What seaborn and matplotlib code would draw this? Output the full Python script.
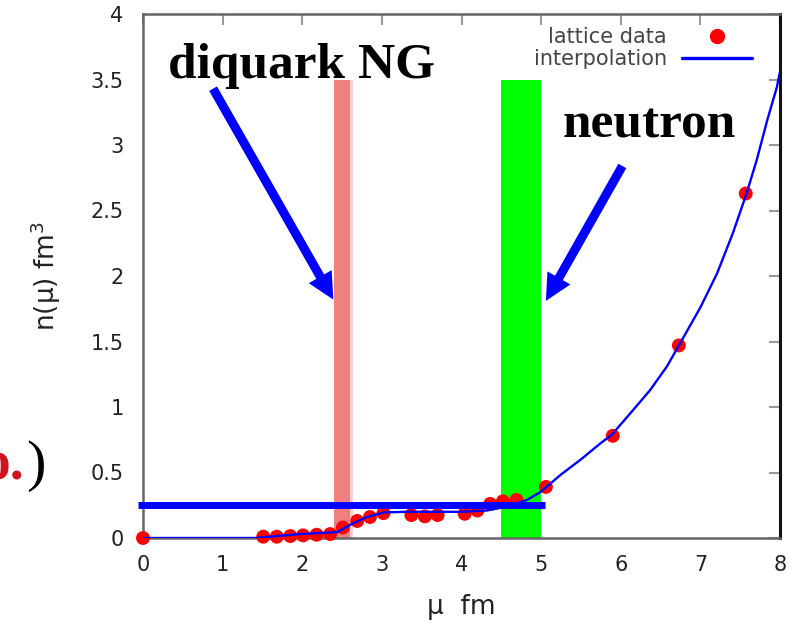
import matplotlib
matplotlib.use("Agg")
import matplotlib.pyplot as plt
import seaborn as sns
import pandas as pd
from matplotlib.lines import Line2D

# ---- data ----
lattice_mu = [0.0, 1.51, 1.68, 1.85, 2.01, 2.18, 2.35, 2.51, 2.69, 2.85, 3.02,
              3.37, 3.54, 3.70, 4.04, 4.20, 4.36, 4.52, 4.69, 5.06,
              5.90, 6.73, 7.57]
lattice_n = [0.0, 0.01, 0.01, 0.015, 0.02, 0.025, 0.03, 0.08, 0.13, 0.16, 0.19,
             0.175, 0.165, 0.175, 0.185, 0.21, 0.26, 0.28, 0.29, 0.39,
             0.78, 1.47, 2.63]

interp_mu = [0.0, 1.4, 1.97, 2.44, 2.6, 2.81, 3.02, 3.3, 3.7, 4.0, 4.32,
             4.57, 4.82, 4.99, 5.24, 5.5, 5.74, 5.89, 6.16, 6.37, 6.58,
             6.73, 7.0, 7.21, 7.41, 7.58, 7.71, 7.84, 7.96, 8.0]
interp_n = [0.0, 0.0, 0.03, 0.045, 0.1, 0.16, 0.195, 0.2, 0.2, 0.2, 0.21,
            0.24, 0.29, 0.35, 0.48, 0.6, 0.72, 0.79, 0.98, 1.13, 1.31,
            1.47, 1.76, 2.02, 2.33, 2.63, 2.89, 3.19, 3.44, 3.56]

diquark_band = [2.40, 2.60]
neutron_band = [4.50, 5.00]
band_top = 3.5
plateau_level = 0.25
plateau_range = [-0.06, 5.05]

x_ticks = [0, 1, 2, 3, 4, 5, 6, 7, 8]
y_ticks = [0, 0.5, 1, 1.5, 2, 2.5, 3, 3.5, 4]
y_tick_labels = ["0", "0.5", "1", "1.5", "2", "2.5", "3", "3.5", "4"]

sns.set_style("white")
plt.rcParams["font.family"] = ["DejaVu Sans"]

W, H = 795, 623
fig = plt.figure(figsize=(W / 100, H / 100), dpi=100)
ax = fig.add_axes([143 / W, 1 - 538 / H, (780 - 143) / W, (538 - 14) / H])

# vertical bands
ax.fill_between(diquark_band, 0, band_top, color="#f08080", lw=0, zorder=1)
ax.fill_between([diquark_band[1], diquark_band[1] + 0.04], 0, band_top,
                color="#fbd0d0", lw=0, zorder=1)
ax.fill_between(neutron_band, 0, band_top, color="#00ff00", lw=0, zorder=1)

df_lat = pd.DataFrame({"mu": lattice_mu, "n": lattice_n})
df_int = pd.DataFrame({"mu": interp_mu, "n": interp_n})

sns.scatterplot(data=df_lat, x="mu", y="n", ax=ax, color="#ff0000", s=100,
                edgecolor="none", zorder=3, legend=False, clip_on=False)
sns.lineplot(data=df_int, x="mu", y="n", ax=ax, color="#0000ff", lw=1.7,
             zorder=4, legend=False)

# thick plateau line
ax.plot(plateau_range, [plateau_level, plateau_level], color="#0000ff", lw=5,
        solid_capstyle="butt", zorder=5, clip_on=False)

ax.set_xlim(0, 8)
ax.set_ylim(0, 4)
ax.set_xticks(x_ticks)
ax.set_yticks(y_ticks)
ax.set_yticklabels(y_tick_labels)
ax.tick_params(direction="in", length=8, width=1.5, colors="#999999",
               labelcolor="#222222", labelsize=15, top=True, right=True)
ax.tick_params(axis="x", pad=12)
ax.tick_params(axis="y", pad=14)
for s in ["left", "top", "bottom"]:
    ax.spines[s].set_color("#666666")
    ax.spines[s].set_linewidth(1.8)
ax.spines["right"].set_color("#111111")
ax.spines["right"].set_linewidth(2.2)

ax.set_xlabel("μ  fm", fontsize=19, color="#222222", labelpad=14)
ax.set_ylabel("n(μ) fm$^3$", fontsize=19, color="#222222", labelpad=20)

# legend (gnuplot style: text left, symbol right)
handles = [Line2D([], [], marker="o", color="#ff0000", ls="none", ms=10),
           Line2D([], [], color="#0000ff", lw=2.4)]
leg = ax.legend(handles, ["lattice data", "interpolation"], loc="upper right",
                markerfirst=False, frameon=False, fontsize=15,
                handlelength=3.36, handletextpad=0.72, labelspacing=0.1,
                borderpad=0, borderaxespad=0,
                bbox_to_anchor=(752 / W, 1 - 27 / H),
                bbox_transform=fig.transFigure)
for t in leg.get_texts():
    t.set_color("#444444")

# arrows
ax.annotate("", xy=(2.39, 1.82), xytext=(0.88, 3.43),
            arrowprops=dict(facecolor="#0000ff", edgecolor="none", width=6.5,
                            headwidth=19, headlength=19, shrink=0), zorder=6)
ax.annotate("", xy=(5.06, 1.81), xytext=(6.02, 2.84),
            arrowprops=dict(facecolor="#0000ff", edgecolor="none", width=6.5,
                            headwidth=19, headlength=19, shrink=0), zorder=6)

serif = ["Liberation Serif", "DejaVu Serif"]
fig.text(168 / W, 1 - 78 / H, "diquark NG", family=serif, weight="bold",
         fontsize=37, color="black", ha="left", va="baseline")
fig.text(563 / W, 1 - 138 / H, "neutron", family=serif, weight="bold",
         fontsize=37, color="black", ha="left", va="baseline")
fig.text(25 / W, 1 - 480 / H, "o.", family=serif, weight="bold",
         fontsize=40, color="#d0141e", ha="right", va="baseline")
fig.text(46 / W, 1 - 480 / H, ")", family=serif, fontsize=42,
         color="black", ha="right", va="baseline")

fig.savefig("out.png", dpi=100)
